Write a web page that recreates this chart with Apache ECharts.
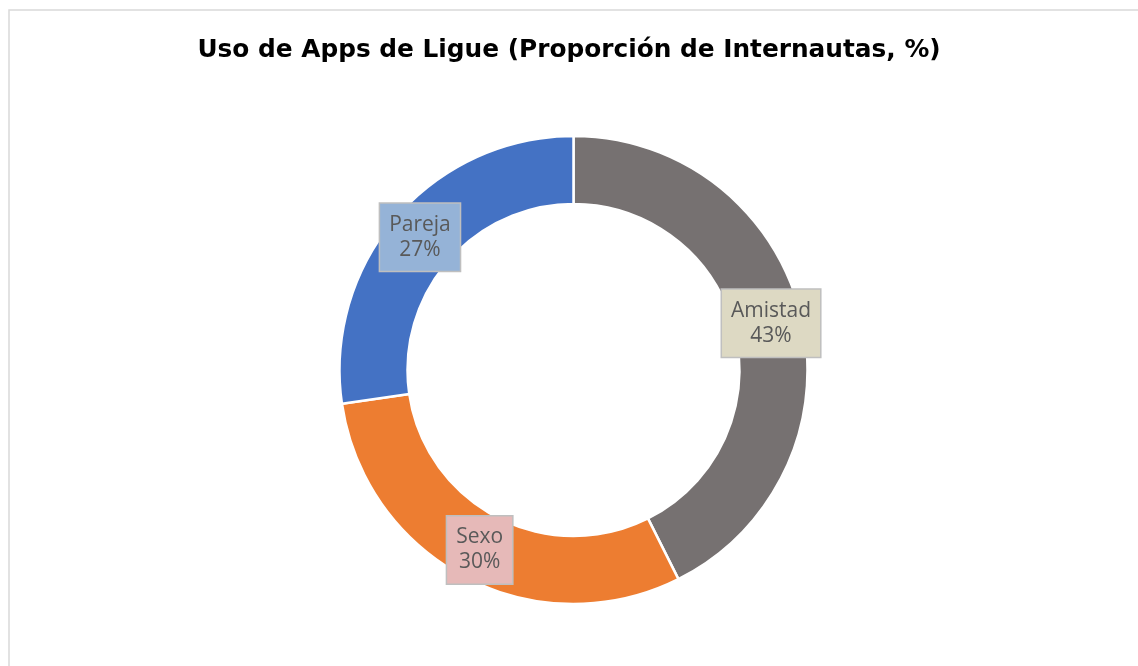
<!DOCTYPE html>
<html>
<head>
<meta charset="utf-8">
<script src="https://cdn.jsdelivr.net/npm/echarts@6/dist/echarts.min.js"></script>
<style>
  html, body { margin: 0; padding: 0; background: #fff; }
  #chart { width: 1138px; height: 666px; }
</style>
</head>
<body>
<div id="chart"></div>
<script>
// datos del gráfico (etiquetas redondeadas)
const categorias = ["Amistad", "Sexo", "Pareja"];
const valores = [42.6, 30.1, 27.3];
const colores = ["#767171", "#ED7D31", "#4472C4"];
const fondosEtiqueta = ["#DDD9C3", "#E6B9B8", "#95B3D7"];

const chart = echarts.init(document.getElementById("chart"));

const datos = categorias.map((nombre, i) => ({
  name: nombre,
  value: valores[i],
  itemStyle: {color: colores[i]},
  label: {backgroundColor: fondosEtiqueta[i]}
}));

const option = {
  animation: false,
  title: {
    text: "Uso de Apps de Ligue (Proporción de Internautas, %)",
    left: "center",
    top: 33,
    textStyle: {
      fontFamily: "DejaVu Sans",
      fontWeight: "bold",
      fontSize: 24.8,
      color: "#000"
    }
  },
  graphic: [{
    type: "rect",
    shape: {x: 9, y: 10, width: 1200, height: 700},
    style: {fill: "none", stroke: "#d9d9d9", lineWidth: 1.5},
    silent: true
  }],
  series: [{
    type: "pie",
    center: [573.5, 370],
    radius: [166, 234],
    startAngle: 90,
    clockwise: true,
    itemStyle: {borderColor: "#fff", borderWidth: 2.5},
    label: {
      show: true,
      position: "inside",
      formatter: p => p.name + "\n" + Math.round(p.percent) + "%",
      fontFamily: "Open Sans",
      fontSize: 21,
      lineHeight: 25,
      color: "#595959",
      borderColor: "#bfbfbf",
      borderWidth: 1.5,
      padding: [9, 9, 8, 9]
    },
    labelLine: {show: false},
    data: datos
  }]
};

chart.setOption(option);
</script>
</body>
</html>
